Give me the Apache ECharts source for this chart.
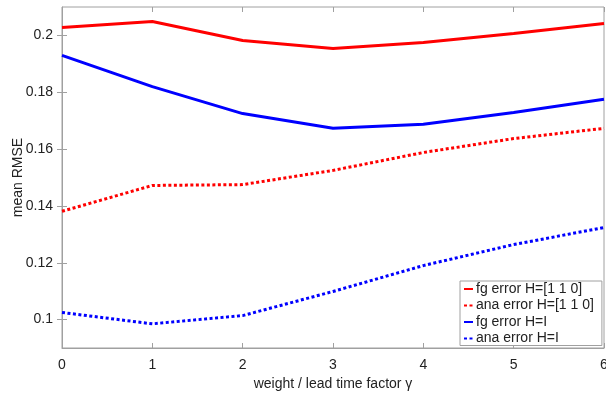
<!DOCTYPE html>
<html>
<head>
<meta charset="utf-8">
<script src="https://cdn.jsdelivr.net/npm/echarts@6/dist/echarts.min.js"></script>
<style>
  html, body { margin: 0; padding: 0; background: #fff; }
  #chart { width: 606px; height: 393px; }
</style>
</head>
<body>
<div id="chart"></div>
<script>
// weight / lead time factor gamma
const gammaValues = [0, 1, 2, 3, 4, 5, 6];

// mean RMSE
const fgErrorH110 = [0.2028, 0.2049, 0.1982, 0.1954, 0.1975, 0.2007, 0.2042];
const anaErrorH110 = [0.1381, 0.1472, 0.1475, 0.1525, 0.1588, 0.1637, 0.1673];
const fgErrorHI = [0.1930, 0.1820, 0.1725, 0.1673, 0.1687, 0.1729, 0.1775];
const anaErrorHI = [0.1025, 0.0985, 0.1014, 0.1099, 0.1190, 0.1264, 0.1324];

const yTicks = [0.1, 0.12, 0.14, 0.16, 0.18, 0.2];

const seriesNames = ['fg error H=[1 1 0]', 'ana error H=[1 1 0]', 'fg error H=I', 'ana error H=I'];

const pairs = (ys) => ys.map((y, i) => [gammaValues[i], y]);

const FONT = 'Liberation Sans';
const axisGray = '#a0a0a0';

const chartDom = document.getElementById('chart');
const chart = echarts.init(chartDom);

// ticks inside on all four sides, like the original box
const tickStyle = { show: true, inside: true, length: 5, lineStyle: { color: axisGray } };

const makeLine = (name, data, color, dotted) => ({
  type: 'line',
  name: name,
  data: pairs(data),
  showSymbol: false,
  symbol: 'none',
  animation: false,
  lineStyle: {
    color: color,
    width: 3,
    type: dotted ? [3, 2.5] : 'solid',
    cap: 'butt',
  },
  itemStyle: { color: color },
});

chart.setOption({
  animation: false,
  grid: {
    left: 62,
    right: 2,
    top: 7,
    bottom: 45,
    outerBoundsMode: 'none',
    containLabel: false,
    show: true,
    borderColor: axisGray,
    borderWidth: 1,
  },
  legend: {
    orient: 'vertical',
    left: 460,
    top: 281,
    padding: [1, 8, 0, 3],
    itemWidth: 9,
    itemHeight: 12,
    itemGap: 2.5,
    backgroundColor: '#fff',
    borderColor: axisGray,
    borderWidth: 1,
    borderRadius: 0,
    // hide the legend symbol, keep only the line sample
    itemStyle: { color: 'rgba(0,0,0,0)', borderWidth: 0, opacity: 0 },
    textStyle: { fontFamily: FONT, fontSize: 14, color: '#222', padding: [0, 0, 0, -2] },
    data: seriesNames,
  },
  xAxis: [
    {
      type: 'value',
      min: 0,
      max: 6,
      interval: 1,
      name: 'weight / lead time factor γ',
      nameLocation: 'middle',
      nameGap: 26,
      nameTextStyle: { fontFamily: FONT, fontSize: 14, color: '#222' },
      axisLine: { show: true, lineStyle: { color: axisGray } },
      axisTick: tickStyle,
      splitLine: { show: false },
      axisLabel: { fontFamily: FONT, fontSize: 14, color: '#222', margin: 10 },
    },
    {
      type: 'value',
      position: 'top',
      min: 0,
      max: 6,
      interval: 1,
      axisLine: { show: false },
      axisTick: tickStyle,
      splitLine: { show: false },
      axisLabel: { show: false },
    },
  ],
  yAxis: [
    {
      type: 'value',
      min: 0.09,
      max: 0.21,
      name: 'mean RMSE',
      nameLocation: 'middle',
      nameGap: 37,
      nameMoveOverlap: false,
      nameTextStyle: { fontFamily: FONT, fontSize: 14, color: '#222' },
      axisLine: { show: true, lineStyle: { color: axisGray } },
      axisTick: Object.assign({ customValues: yTicks }, tickStyle),
      splitLine: { show: false },
      axisLabel: {
        fontFamily: FONT,
        fontSize: 14,
        color: '#222',
        margin: 9,
        customValues: yTicks,
        formatter: (v) => String(+v.toFixed(2)),
      },
    },
    {
      type: 'value',
      position: 'right',
      min: 0.09,
      max: 0.21,
      axisLine: { show: false },
      axisTick: Object.assign({ customValues: yTicks }, tickStyle),
      splitLine: { show: false },
      axisLabel: { show: false },
    },
  ],
  series: [
    makeLine(seriesNames[0], fgErrorH110, '#ff0000', false),
    makeLine(seriesNames[1], anaErrorH110, '#ff0000', true),
    makeLine(seriesNames[2], fgErrorHI, '#0000ff', false),
    makeLine(seriesNames[3], anaErrorHI, '#0000ff', true),
  ],
});
</script>
</body>
</html>
